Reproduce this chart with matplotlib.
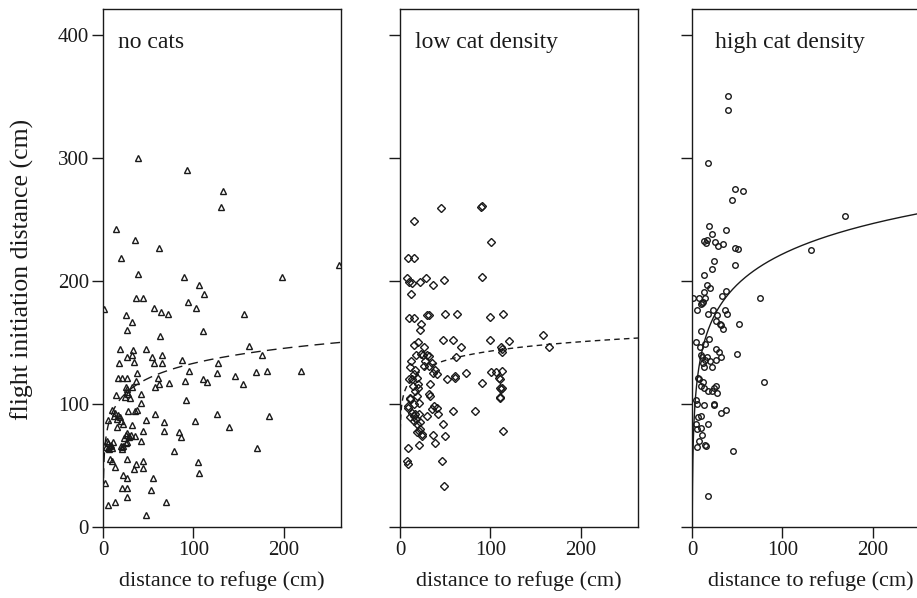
import numpy as np
import matplotlib
matplotlib.use("Agg")
import matplotlib.pyplot as plt

plt.rcParams["font.family"] = ["Liberation Serif", "DejaVu Serif"]

# --- données (distance au refuge, distance de fuite) ---
nocats_x = [39, 93, 133, 130, 14, 35, 62, 20, 261, 39, 90, 198, 106, 112, 37, 44, 94, 103, 1, 56,
            64, 72, 25, 156, 32, 27, 110, 63, 19, 33, 47, 161, 26, 32, 54, 65, 176, 87, 18, 34,
            56, 65, 127, 38, 95, 126, 169, 181, 219, 17, 21, 27, 36, 61, 91, 110, 115, 146, 73, 62,
            58, 155, 25, 32, 26, 28, 24, 30, 27, 14, 42, 92, 42, 10, 13, 12, 15, 17, 19, 20,
            22, 16, 5, 28, 35, 38, 47, 58, 126, 183, 67, 102, 32, 44, 67, 139, 84, 86, 31, 35,
            29, 42, 4, 6, 8, 10, 3, 7, 9, 11, 5, 22, 25, 27, 21, 21, 78, 170, 8, 10,
            27, 13, 44, 37, 34, 44, 105, 106, 22, 27, 55, 2, 21, 26, 53, 27, 5, 13, 70, 48,
            25, 27, 29, 23, 20]
nocats_y = [300, 290, 273, 260, 242, 233, 227, 219, 213, 206, 203, 203, 197, 189, 186, 186, 183, 178, 177, 178,
            175, 173, 172, 173, 167, 160, 159, 155, 145, 144, 145, 147, 138, 140, 138, 140, 140, 136, 133, 134,
            133, 133, 133, 125, 127, 125, 126, 127, 127, 121, 121, 121, 119, 121, 119, 120, 118, 123, 117, 116,
            114, 116, 114, 114, 110, 108, 106, 105, 112, 107, 108, 103, 101, 95, 93, 90, 88, 91, 89, 86,
            84, 81, 87, 94, 94, 95, 87, 92, 92, 90, 85, 86, 83, 78, 78, 81, 77, 73, 75, 74,
            73, 70, 70, 68, 66, 64, 65, 63, 67, 69, 64, 66, 68, 69, 65, 63, 62, 64, 55, 54,
            55, 49, 54, 51, 47, 48, 53, 44, 42, 40, 40, 36, 32, 32, 30, 24, 18, 20, 20, 10,
            75, 76, 74, 72, 66]

low_x = [45, 90, 91, 15, 101, 9, 15, 7.5, 10, 13, 22, 29, 36, 49, 91, 12, 10, 16, 23.5, 22,
         30, 32, 50, 63, 100, 114, 47, 59, 67, 100, 120, 112, 157.5, 165, 15, 20, 27, 23, 30, 32,
         61.5, 113, 113, 12, 11, 17, 15, 13, 19, 20, 26, 32, 35, 39, 37, 41, 33.5, 52, 61, 61,
         72.6, 90.5, 100.5, 106, 113, 109, 113, 20, 17, 11, 18.6, 20.5, 15, 9, 13, 17, 11, 15, 19, 22,
         30, 32, 33.5, 35, 38, 41, 42, 47, 58.5, 82.7, 113.6, 50, 37, 39, 20.5, 18.6, 24, 20.5, 8.6, 7.5,
         8.6, 46.6, 48.4, 110.6, 110.6, 111, 112, 111, 24, 22, 11, 9, 16, 18, 21, 10, 14, 25, 28, 18]
low_y = [259, 260, 261, 249, 232, 219, 219, 202, 199, 198, 199, 202, 197, 201, 203, 189, 170, 170, 165, 160,
         172, 172, 173, 173, 171, 173, 152, 152, 146, 152, 151, 146, 156, 146, 148, 150, 146, 141, 140, 139,
         138, 145, 142, 135, 130, 128, 124, 120, 121, 116, 131, 131, 133.5, 128, 125.5, 124, 116.5, 120, 123, 121,
         125.5, 117, 126, 126, 127, 121, 113, 113, 110.6, 105, 106.5, 101, 100, 97, 93, 92, 89, 86, 83.5, 85,
         90, 108, 106.5, 96, 98, 97, 92, 83.5, 94, 94, 78, 74, 75, 68, 78, 77, 75.4, 67, 64.5, 53.7,
         51.5, 53.7, 33, 113, 106, 120, 112.5, 105, 74, 80, 104, 98, 90, 88, 92, 120, 115, 140, 135, 140]

high_x = [40, 40, 18, 47, 56, 44.6, 169, 19, 21.7, 38, 13.5, 16.5, 16, 25.5, 28.4, 34.5, 47.5, 51, 132, 24.7,
          22.5, 48, 13.5, 17, 19.4, 13.5, 33, 38, 1, 8, 14.6, 75, 10, 12.7, 11, 6, 17.6, 22.8, 27.7, 27,
          30.7, 32, 34.5, 37, 39, 52, 9.8, 4.5, 9, 14.6, 19, 49.4, 9.8, 11, 14.6, 12.7, 13.5, 16.5, 20, 22,
          26, 29.6, 32, 27, 7, 8, 12, 10, 13.5, 18, 22, 24.7, 27, 27.7, 80, 4.5, 6, 13.5, 24, 24.7,
          32, 38, 7, 10, 4.5, 5.3, 9.8, 18, 11, 8, 6, 14.6, 15.7, 45.7, 17.6]
high_y = [350, 339, 296, 275, 273, 266, 253, 245, 238.5, 241, 232.5, 233, 230.6, 232, 228, 230, 227, 226, 225, 216,
          209.5, 213, 205, 197, 194, 191, 188, 192, 186.5, 186.5, 186.5, 186.5, 181, 183, 182, 176, 173, 176, 172, 167.5,
          165, 164, 161, 176, 173, 165, 159, 150, 146, 149, 153, 141, 140, 138, 136, 133.6, 130, 138, 135, 130,
          144.5, 142, 138, 136, 121, 120, 118, 114.6, 112.8, 110.6, 110.6, 113, 114.6, 109, 118, 103, 100, 99, 100, 99,
          93, 95, 89.4, 90, 83.5, 80, 80.7, 84, 75, 70, 65, 66.4, 66, 62, 25]

# courbes ajustées y = a + b*ln(x)
fit_a = [52, 92.3, 57]
fit_b = [17.6, 11, 35.8]
fit_x0 = [0.5, 0.3, 0.2]

titres = ["no cats", "low cat density", "high cat density"]
marqueurs = ["^", "D", "o"]
tailles = [4.4, 4.0, 4.0]
styles = [(0, (7, 4.5)), (0, (4, 3)), "-"]
series = [(nocats_x, nocats_y), (low_x, low_y), (high_x, high_y)]

encre = "#1a1a1a"
fig = plt.figure(figsize=(9.17, 5.98), dpi=100)
gauches = [103, 400, 692]
largeur = 238

for i in range(3):
    ax = fig.add_axes([gauches[i] / 917, 1 - 527 / 598, largeur / 917, 518 / 598])
    x, y = series[i]
    ax.plot(x, y, linestyle="none", marker=marqueurs[i], markersize=tailles[i],
            markerfacecolor="none", markeredgecolor=encre, markeredgewidth=1.0)
    xc = np.geomspace(fit_x0[i], 263, 400)
    ax.plot(xc, fit_a[i] + fit_b[i] * np.log(xc), color=encre, linestyle=styles[i], linewidth=1.0)
    ax.set_xlim(0, 263)
    ax.set_ylim(0, 421)
    ax.set_xticks([0, 100, 200])
    ax.set_yticks([0, 100, 200, 300, 400])
    ax.tick_params(direction="out", length=8, width=1, colors=encre, labelsize=15, pad=2)
    if i > 0:
        ax.set_yticklabels([])
    for sp in ax.spines.values():
        sp.set_linewidth(1.0)
        sp.set_color(encre)
    ax.set_xlabel("distance to refuge (cm)", fontsize=16, color=encre, labelpad=8)
    ax.text(0.065 if i < 2 else 0.095, 0.925, titres[i], transform=ax.transAxes,
            fontsize=17, color=encre, va="baseline", ha="left")

fig.text(0.024, 0.55, "flight initiation distance (cm)", rotation=90, fontsize=18.5,
         color=encre, ha="center", va="center")

fig.savefig("out.png", dpi=100)
